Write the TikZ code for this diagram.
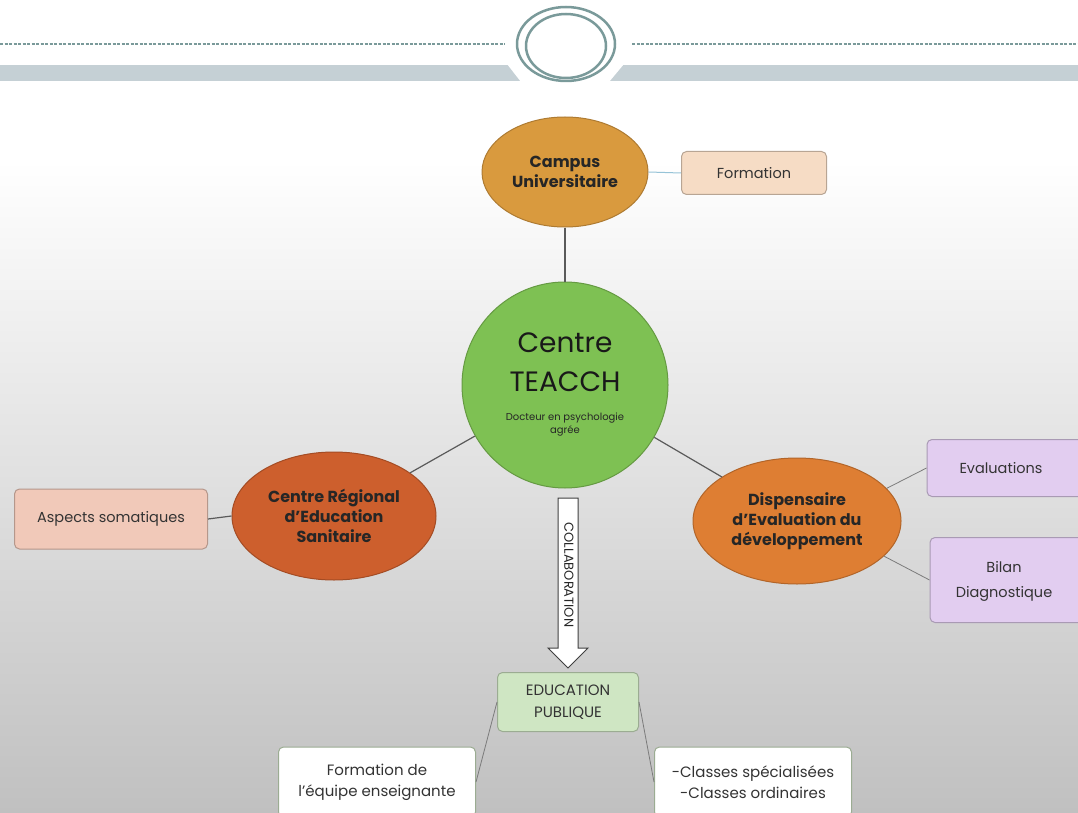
\documentclass[tikz,border=0pt]{standalone}
\usepackage{fontspec}
\setmainfont{Poppins}
\usetikzlibrary{shapes.geometric}
\definecolor{deco}{RGB}{122,154,154}
\definecolor{band}{RGB}{197,208,213}
\definecolor{campus}{RGB}{217,154,62}
\definecolor{teacch}{RGB}{126,193,83}
\definecolor{regional}{RGB}{205,95,45}
\definecolor{dispens}{RGB}{222,126,51}
\definecolor{formfill}{RGB}{246,220,197}
\definecolor{aspfill}{RGB}{241,201,185}
\definecolor{lav}{RGB}{226,205,240}
\definecolor{edufill}{RGB}{207,230,195}
\definecolor{linkgray}{RGB}{90,90,90}
\newcommand{\apos}{{\char"0027}}
\tikzset{
  bubble/.style={ellipse, draw=#1!80!black, fill=#1, line width=1pt, inner sep=0pt, align=center, font=\bfseries\fontsize{16}{20}\selectfont, text=black!85},
  leaf/.style={rounded corners=5pt, draw=#1!75!black, fill=#1, line width=1pt, inner sep=0pt, align=center, font=\fontsize{14.5}{22}\selectfont, text=black!80},
  link/.style={draw=linkgray, line width=1.2pt},
  thinlink/.style={draw=linkgray!80, line width=0.8pt}
}
\begin{document}
\begin{tikzpicture}[x=1pt,y=-1pt]
\useasboundingbox (0,0) rectangle (1078,813);
% background
\fill[white] (0,0) rectangle (1078,160);
\shade[top color=white, bottom color={rgb,255:red,192;green,192;blue,192}] (0,160) rectangle (1078,813);
% header
\fill[band] (0,65) rectangle (1078,81);
\fill[white] (507,64) -- (624,64) -- (609,82) -- (521,82) -- cycle;
\draw[deco, line width=1.6pt, dash pattern=on 3pt off 1.5pt] (0,44) -- (505,44);
\draw[deco, line width=1.6pt, dash pattern=on 3pt off 1.5pt] (632,44) -- (1078,44);
\fill[white] (566,44) ellipse [x radius=52, y radius=40];
\draw[deco, line width=2.5pt] (566,44) ellipse [x radius=49, y radius=37];
\draw[deco, line width=2.5pt] (566,46) ellipse [x radius=40, y radius=32];
% nodes
\node[bubble=campus, minimum width=166, minimum height=110] (campus) at (565,172) {Campus\\Universitaire};
\node[leaf=formfill, minimum width=145, minimum height=43] (formation) at (754,173) {Formation};
\node[circle, draw=teacch!80!black, fill=teacch, line width=1pt, minimum size=206, inner sep=0pt] (teacch) at (565,385) {};
\node[font=\fontsize{28}{39}\selectfont, align=center, text=black!90] (teacchtxt) at (565,362) {Centre\\TEACCH};
\node[font=\fontsize{10}{13}\selectfont, align=center, text=black!85] (teacchsub) at (565,425) {Docteur en psychologie\\agrée};
\node[bubble=regional, minimum width=204, minimum height=128] (regional) at (334,516) {Centre Régional\\d\apos Education\\Sanitaire};
\node[leaf=aspfill, minimum width=193, minimum height=60] (aspects) at (111,519) {Aspects somatiques};
\node[bubble=dispens, minimum width=208, minimum height=126] (dispens) at (797,521) {Dispensaire\\d\apos Evaluation du\\développement};
\node[leaf=lav, minimum width=160, minimum height=57] (evals) at (1007,468) {\hspace*{-12pt}Evaluations};
\node[leaf=lav, minimum width=160, minimum height=85, font=\fontsize{14.5}{25}\selectfont] (bilan) at (1010,580) {\hspace*{-12pt}\begin{tabular}{@{}c@{}}Bilan\\Diagnostique\end{tabular}};
\node[leaf=edufill, minimum width=141, minimum height=59, font=\fontsize{15}{22}\selectfont] (edu) at (568,702) {EDUCATION\\PUBLIQUE};
\node[leaf=edufill, fill=white, minimum width=197, minimum height=70, font=\fontsize{15}{21}\selectfont] (equipe) at (377,782) {Formation de\\l'équipe enseignante};
\node[leaf=edufill, fill=white, minimum width=197, minimum height=70, font=\fontsize{15}{21}\selectfont] (classes) at (753,782) {-Classes spécialisées\\-Classes ordinaires};
% arrow
\draw[draw=black!75, fill=white, line width=1pt, line join=miter]
  (558,498) -- (578,498) -- (578,648) -- (588,648) -- (568,668) -- (548,648) -- (558,648) -- cycle;
\node[rotate=-90, font=\fontsize{13}{15}\selectfont, text=black!85] (collabtxt) at (569,575) {COLLABORATION};
% connectors
\draw[link] (campus) -- (teacch);
\draw[draw={rgb,255:red,150;green,195;blue,215}, line width=1pt] (campus.east) -- (formation.west);
\draw[link] (teacch) -- (regional);
\draw[link] (teacch) -- (dispens);
\draw[link] (aspects.east) -- (regional.west);
\draw[thinlink] (dispens.20) -- (evals.west);
\draw[thinlink] (dispens.-22) -- (bilan.west);
\draw[thinlink] (edu.west) -- (equipe.east);
\draw[thinlink] (edu.east) -- (classes.west);
\end{tikzpicture}
\end{document}
